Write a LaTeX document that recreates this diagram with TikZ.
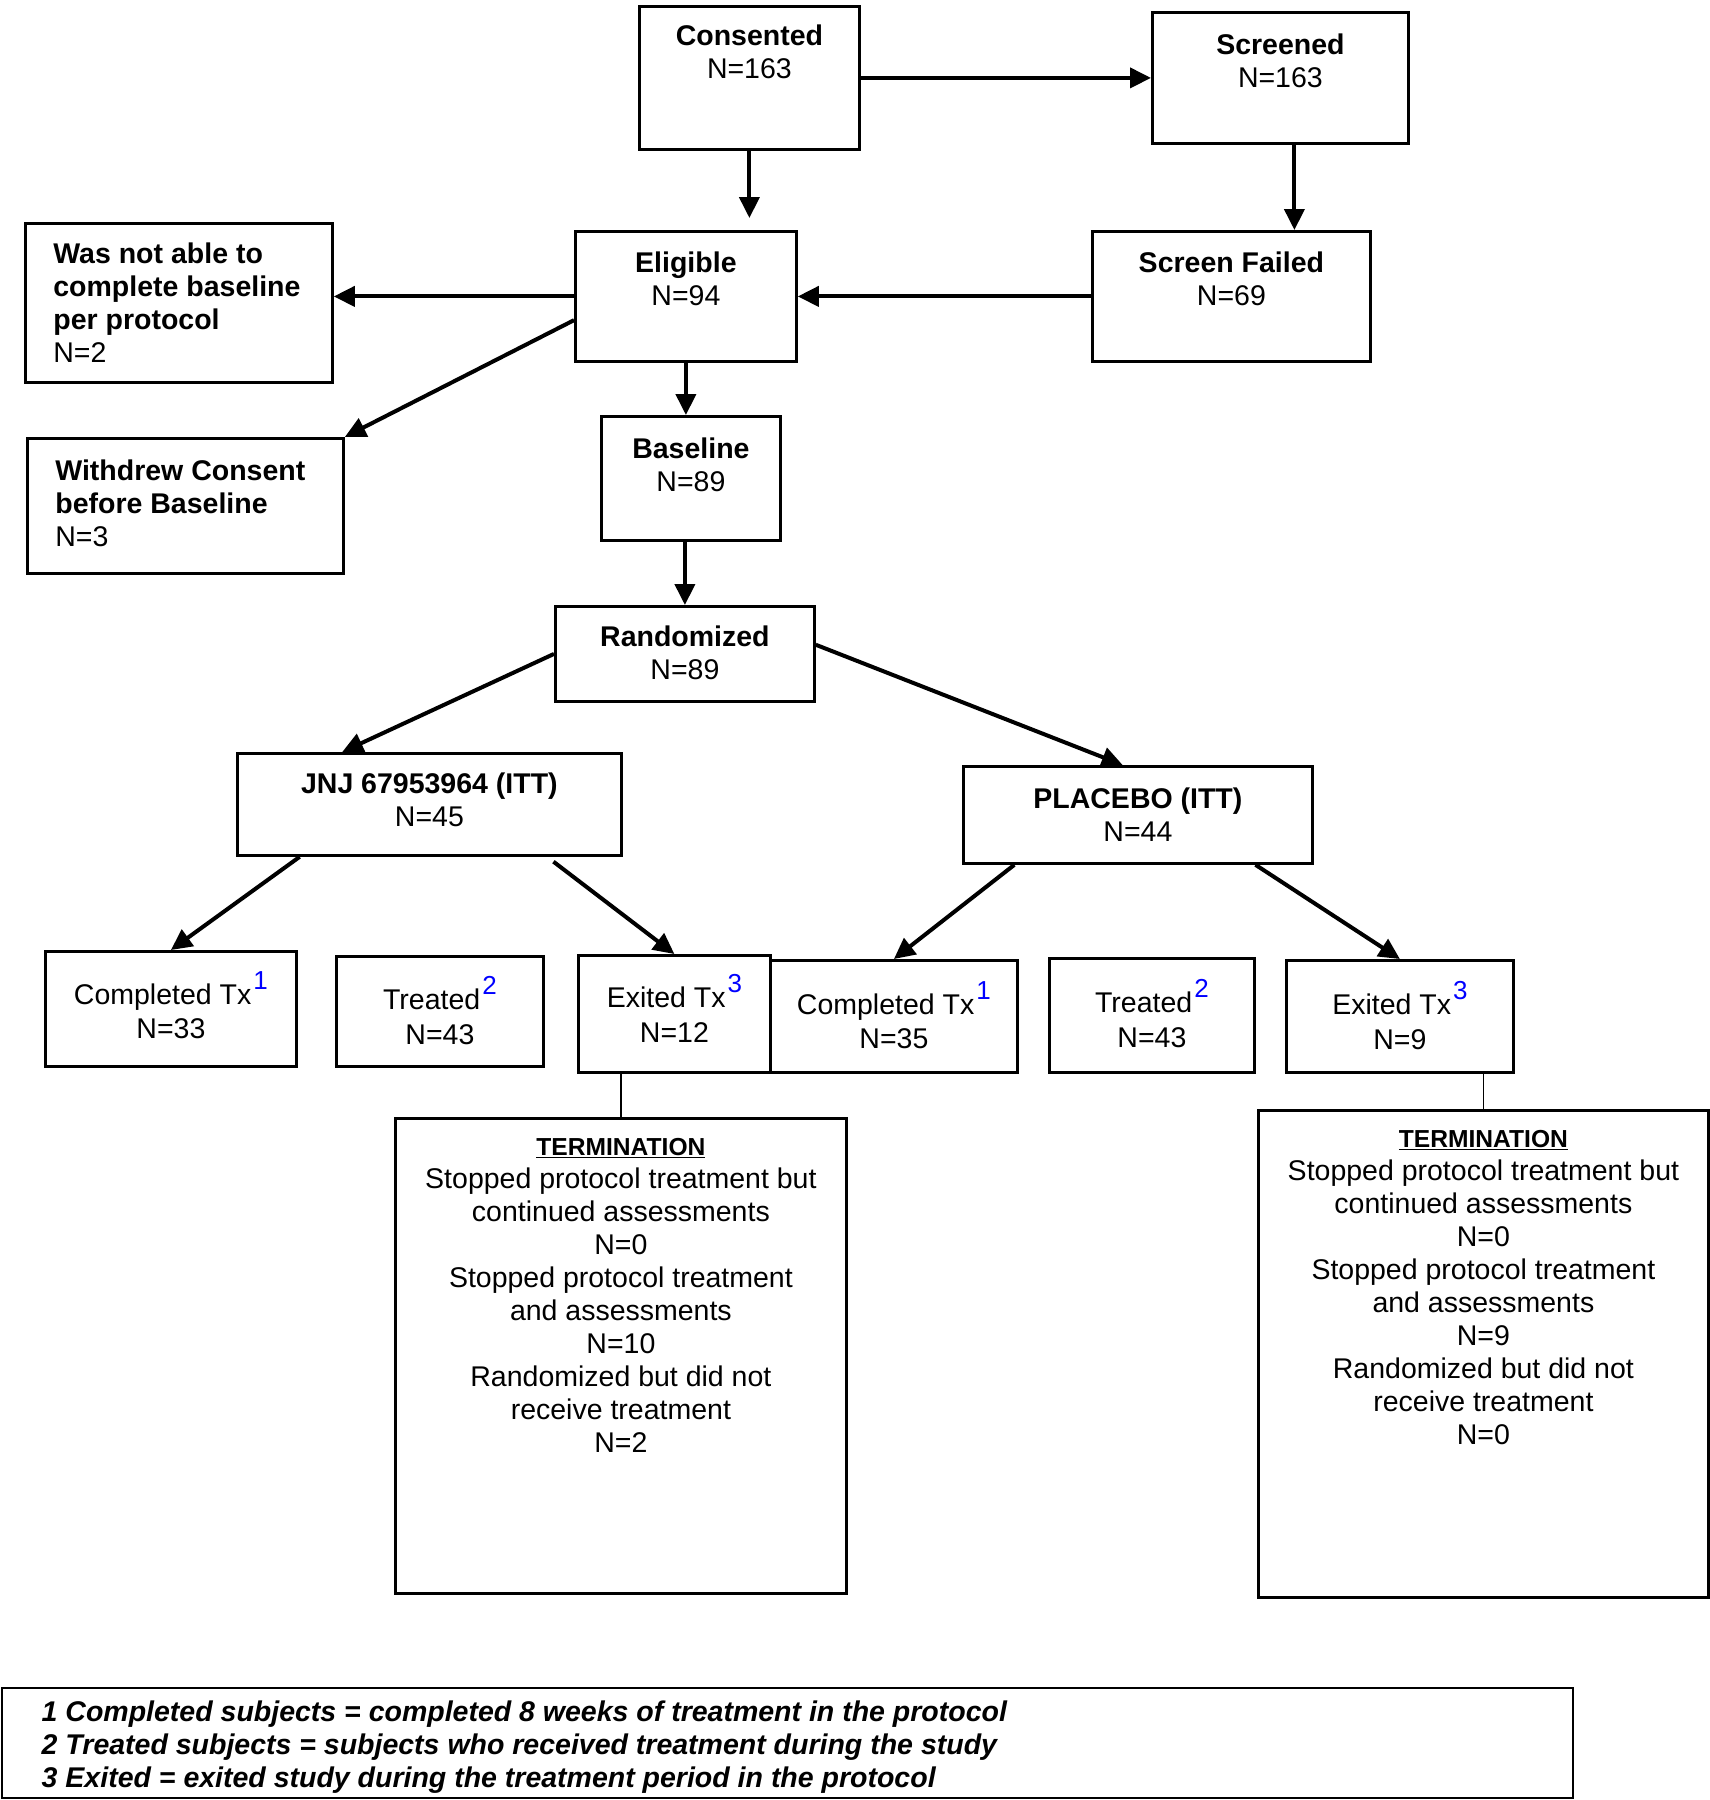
\documentclass[tikz,border=0pt]{standalone}
\usepackage{fontspec}
\setmainfont{Liberation Sans}
\usetikzlibrary{arrows.meta, calc}
\newcommand{\boxtext}[4]{\parbox[c][#2pt][t]{#1pt}{\centering\vspace*{#3pt}#4}}
\newcommand{\boxtextL}[5]{\parbox[c][#2pt][t]{#1pt}{\raggedright\leftskip=#4pt\vspace*{#3pt}#5}}
\newcommand{\fnmark}[1]{\kern2pt\raisebox{15pt}{\fontsize{26}{26}\selectfont\color{blue}#1}}

\begin{document}
\begin{tikzpicture}[x=1pt, y=-1pt,
        every node/.style={font=\fontsize{28.5}{33}\selectfont},
        stage/.style={rectangle, draw, line width=2.8pt, inner sep=0pt, anchor=north west},
        flow/.style={-{Triangle[length=21pt, width=20pt]}, line width=4pt},
        link/.style={line width=1.6pt}]

        \useasboundingbox (0,0) rectangle (1710,1800);

        % Screening
        \node[stage] (cons) at (638,5) {\boxtext{220}{143}{18}{\textbf{Consented}\\N=163}};
        \node[stage] (scr) at (1151,11) {\boxtext{256}{131}{21}{\textbf{Screened}\\N=163}};
        \node[stage] (elig) at (574,230) {\boxtext{221}{130}{20}{\textbf{Eligible}\\N=94}};
        \node[stage] (sf) at (1091,230) {\boxtext{278}{130}{20}{\textbf{Screen Failed}\\N=69}};
        \node[stage] (wna) at (24,222) {\boxtextL{307}{159}{19}{28}{\textbf{Was not able to}\\\textbf{complete baseline}\\\textbf{per protocol}\\N=2}};
        \node[stage] (wdr) at (26,437) {\boxtextL{316}{135}{21}{28}{\textbf{Withdrew Consent}\\\textbf{before Baseline}\\N=3}};
        \node[stage] (base) at (600,415) {\boxtext{179}{124}{21}{\textbf{Baseline}\\N=89}};
        \node[stage] (rand) at (554,605) {\boxtext{259}{95}{19}{\textbf{Randomized}\\N=89}};

        % Treatment arms
        \node[stage] (jnj) at (236,752) {\boxtext{384}{102}{19}{\textbf{JNJ 67953964 (ITT)}\\N=45}};
        \node[stage] (plac) at (962,765) {\boxtext{349}{97}{21}{\textbf{PLACEBO (ITT)}\\N=44}};

        % Outcomes
        \node[stage] (cmpl) at (44,950) {\boxtext{251}{115}{20}{Completed Tx\fnmark{1}\\[1.5pt]N=33}};
        \node[stage] (trl) at (335,955) {\boxtext{207}{110}{20}{Treated\fnmark{2}\\[1.5pt]N=43}};
        \node[stage] (exl) at (577,954) {\boxtext{192}{117}{19}{Exited Tx\fnmark{3}\\[1.5pt]N=12}};
        \node[stage] (cmpr) at (769,959) {\boxtext{247}{112}{21}{Completed Tx\fnmark{1}\\[1.5pt]N=35}};
        \node[stage] (trr) at (1048,957) {\boxtext{205}{114}{21}{Treated\fnmark{2}\\[1.5pt]N=43}};
        \node[stage] (exr) at (1285,959) {\boxtext{227}{112}{21}{Exited Tx\fnmark{3}\\[1.5pt]N=9}};

        % Termination details
        \node[stage] (terml) at (394,1117) {\boxtext{451}{475}{20}{\underline{\fontsize{24.6}{33}\selectfont\textbf{TERMINATION}}\\Stopped protocol treatment but\\continued assessments\\N=0\\Stopped protocol treatment\\and assessments\\N=10\\Randomized but did not\\receive treatment\\N=2}};
        \node[stage] (termr) at (1257,1109) {\boxtext{450}{487}{20}{\underline{\fontsize{24.6}{33}\selectfont\textbf{TERMINATION}}\\Stopped protocol treatment but\\continued assessments\\N=0\\Stopped protocol treatment\\and assessments\\N=9\\Randomized but did not\\receive treatment\\N=0}};

        % Footnotes
        \node[stage, line width=1.5pt] (notes) at (1,1687) {\boxtextL{1571}{110}{13}{40}{\bfseries\itshape 1 Completed subjects = completed 8 weeks of treatment in the protocol\\2 Treated subjects = subjects who received treatment during the study\\3 Exited = exited study during the treatment period in the protocol}};

        % Arrows
        \draw[flow] (cons.east) -- (cons.east -| scr.west);
        \draw[flow, shorten >=12pt] (cons.south) -- (cons.south |- elig.north);
        \draw[flow] ([xshift=14pt]scr.south) -- ([xshift=14pt]scr.south |- sf.north);
        \draw[flow] (sf.west) -- (elig.east);
        \draw[flow] (elig.west) -- (elig.west -| wna.east);
        \draw[flow] (elig.192) -- (wdr.north east);
        \draw[flow] (elig.south) -- (elig.south |- base.north);
        \draw[flow] (rand.north |- base.south) -- (rand.north);
        \draw[flow] (rand.west) -- (jnj.149);
        \draw[flow] (rand.4) -- (plac.107);
        \draw[flow] (jnj.202) -- (cmpl.north);
        \draw[flow, shorten <=8pt] (jnj.336) -- (exl.north);
        \draw[flow] (plac.202) -- (cmpr.north);
        \draw[flow] (plac.337) -- (exr.north);
        \draw[link] (terml.north |- exl.south) -- (terml.north);
        \draw[link] (termr.north |- exr.south) -- (termr.north);
    \end{tikzpicture}
\end{document}
